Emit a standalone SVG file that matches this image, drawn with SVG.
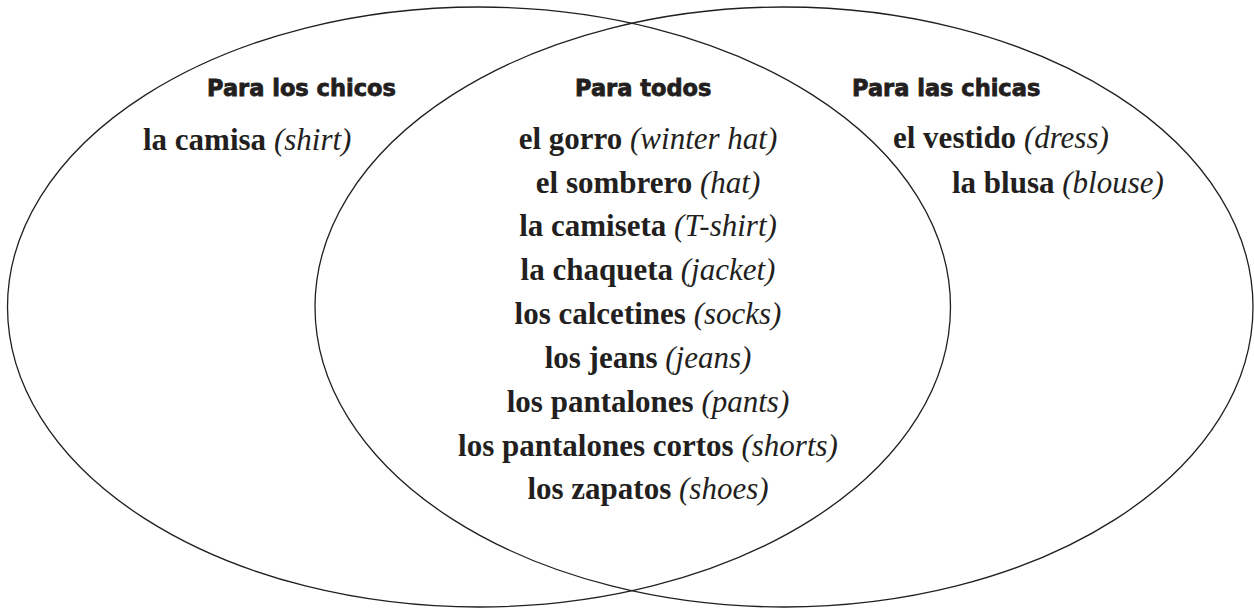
<svg xmlns="http://www.w3.org/2000/svg" width="1254" height="610" viewBox="0 0 1254 610">
<style>
.ring{fill:none;stroke:#231f20;stroke-width:1.3}
.hd{font-family:"DejaVu Sans","Liberation Sans",sans-serif;font-weight:bold;font-size:22.5px;fill:#231f20;stroke:#231f20;stroke-width:0.8}
.it{font-family:"Liberation Serif","Times New Roman",serif;font-weight:bold;font-size:31px;fill:#231f20}
.en{font-weight:normal;font-style:italic}
</style>
<rect width="1254" height="610" fill="#fff"/>
<g id="sets">
<ellipse id="left-set" class="ring" cx="479" cy="307" rx="471.5" ry="300"/>
<ellipse id="right-set" class="ring" cx="784" cy="307" rx="469" ry="300"/>
</g>
<g id="chicos">
<text class="hd" x="207" y="96">Para los chicos</text>
<text class="it" x="143" y="150">la camisa <tspan class="en">(shirt)</tspan></text>
</g>
<g id="todos">
<text class="hd" x="575" y="96">Para todos</text>
<text class="it" x="648" y="149" text-anchor="middle">el gorro <tspan class="en">(winter hat)</tspan></text>
<text class="it" x="648" y="192.5" text-anchor="middle">el sombrero <tspan class="en">(hat)</tspan></text>
<text class="it" x="648" y="236" text-anchor="middle">la camiseta <tspan class="en">(T-shirt)</tspan></text>
<text class="it" x="648" y="280" text-anchor="middle">la chaqueta <tspan class="en">(jacket)</tspan></text>
<text class="it" x="648" y="324" text-anchor="middle">los calcetines <tspan class="en">(socks)</tspan></text>
<text class="it" x="648" y="368" text-anchor="middle">los jeans <tspan class="en">(jeans)</tspan></text>
<text class="it" x="648" y="412" text-anchor="middle">los pantalones <tspan class="en">(pants)</tspan></text>
<text class="it" x="648" y="455.5" text-anchor="middle">los pantalones cortos <tspan class="en">(shorts)</tspan></text>
<text class="it" x="648" y="499" text-anchor="middle">los zapatos <tspan class="en">(shoes)</tspan></text>
</g>
<g id="chicas">
<text class="hd" x="852" y="96">Para las chicas</text>
<text class="it" x="893" y="148">el vestido <tspan class="en">(dress)</tspan></text>
<text class="it" x="952" y="193">la blusa <tspan class="en">(blouse)</tspan></text>
</g>
</svg>
